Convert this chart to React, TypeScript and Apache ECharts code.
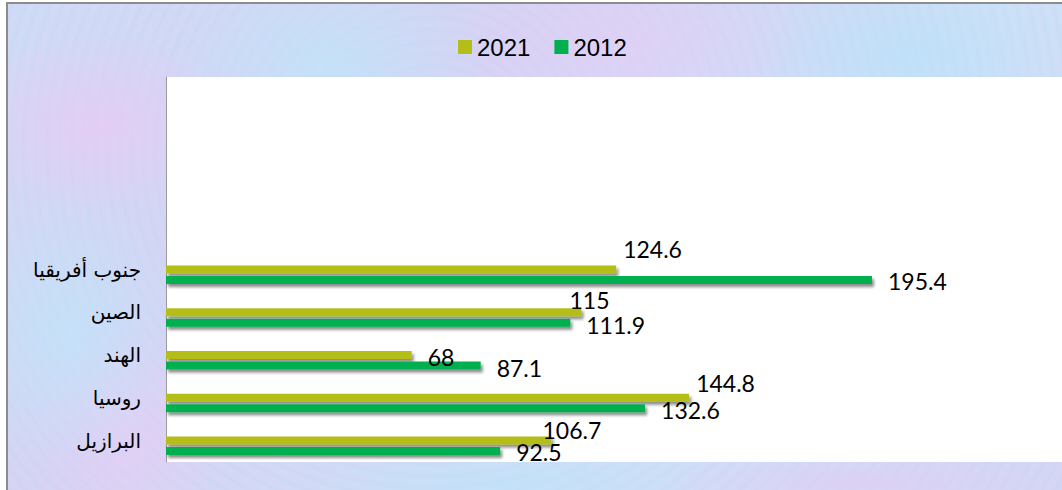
import React, { useEffect, useRef } from "react";
import * as echarts from "echarts";

const categories = ["البرازيل", "روسيا", "الهند", "الصين", "جنوب أفريقيا"];
const values2021 = [106.7, 144.8, 68, 115, 124.6];
const values2012 = [92.5, 132.6, 87.1, 111.9, 195.4];
const seriesNames = ["2021", "2012"];
const emptySlotsOnTop = 4;

// label placement tweaks (style only)
const offsets2021: [number, number][] = [
  [-25, -11],
  [-9, -15],
  [0, 2],
  [-28, -12],
  [-9, -21],
];
const offsets2012: [number, number][] = [
  [0, 1],
  [0, 2],
  [0, 2],
  [0, 2],
  [0, 1],
];

export default function App() {
  const ref = useRef<HTMLDivElement>(null);
  useEffect(() => {
    if (!ref.current) return;
    const chart = echarts.init(ref.current, null, { renderer: "svg" });
    const axisData = [
      ...categories,
      ...Array.from({ length: emptySlotsOnTop }, (_, i) => " ".repeat(i + 1)),
    ];
    const shadow = {
      shadowColor: "rgba(0,0,0,0.45)",
      shadowBlur: 3,
      shadowOffsetX: 2,
      shadowOffsetY: 3,
    };
    const labelFont = { fontFamily: "Lato", fontSize: 23, lineHeight: 18, color: "#000" };
    chart.setOption({
      animation: false,
      backgroundColor: "transparent",
      legend: {
        data: seriesNames,
        left: 453,
        top: 30,
        itemWidth: 14,
        itemHeight: 14,
        itemGap: 24,
        icon: "rect",
        textStyle: { fontFamily: "Liberation Sans, Arial", fontSize: 24, color: "#000" },
      },
      grid: {
        left: 166,
        top: 77,
        right: 0,
        height: 385,
        show: true,
        backgroundColor: "#ffffff",
        borderWidth: 0,
      },
      xAxis: {
        type: "value",
        min: 0,
        max: 248,
        show: false,
        splitLine: { show: false },
      },
      yAxis: {
        type: "category",
        data: axisData,
        axisLine: { show: true, lineStyle: { color: "#9a9a9a", width: 1 } },
        axisTick: { show: false },
        axisLabel: {
          margin: 25,
          fontFamily: "DejaVu Sans",
          fontSize: 20,
          color: "#000",
        },
      },
      series: [
        {
          name: "",
          type: "bar",
          barWidth: 8,
          barGap: "31%",
          data: categories.map(() => null),
          silent: true,
        },
        {
          name: seriesNames[0],
          type: "bar",
          barWidth: 8,
          barGap: "31%",
          itemStyle: { color: "#B4BE18", ...shadow },
          label: { show: true, position: "right", distance: 16, ...labelFont },
          data: values2021.map((v, i) => ({ value: v, label: { offset: offsets2021[i] } })),
        },
        {
          name: seriesNames[1],
          type: "bar",
          barWidth: 8,
          barGap: "31%",
          itemStyle: { color: "#00B050", ...shadow },
          label: { show: true, position: "right", distance: 16, ...labelFont },
          data: values2012.map((v, i) => ({ value: v, label: { offset: offsets2012[i] } })),
        },
      ],
    });
    return () => chart.dispose();
  }, []);

  const texture =
    "radial-gradient(ellipse 140px 90px at 90px 120px, rgba(235,200,245,0.7), transparent)," +
    "radial-gradient(ellipse 160px 100px at 320px 60px, rgba(190,230,250,0.7), transparent)," +
    "radial-gradient(ellipse 180px 90px at 620px 40px, rgba(230,205,245,0.6), transparent)," +
    "radial-gradient(ellipse 160px 80px at 900px 50px, rgba(185,225,250,0.7), transparent)," +
    "radial-gradient(ellipse 120px 140px at 60px 330px, rgba(190,230,250,0.7), transparent)," +
    "radial-gradient(ellipse 100px 120px at 120px 430px, rgba(235,205,245,0.6), transparent)," +
    "radial-gradient(ellipse 200px 30px at 500px 478px, rgba(190,225,250,0.7), transparent)," +
    "radial-gradient(ellipse 200px 30px at 850px 478px, rgba(225,205,245,0.7), transparent)," +
    "repeating-radial-gradient(circle at 40% 30%, rgba(180,200,240,0.18) 0px, rgba(255,255,255,0) 6px, rgba(220,200,245,0.18) 12px)," +
    "linear-gradient(135deg, #cfdcf6 0%, #d6d4f4 35%, #cde2f7 65%, #d5d6f5 100%)";

  return (
    <div
      style={{
        position: "fixed",
        left: 0,
        top: 0,
        width: 1062,
        height: 490,
        background: "#ffffff",
        overflow: "hidden",
      }}
    >
      <div
        style={{
          position: "absolute",
          left: 6,
          top: 2,
          width: 1062,
          height: 490,
          borderLeft: "2px solid #8c8c8c",
          borderTop: "2px solid #8c8c8c",
          background: texture,
        }}
      />
      <div
        ref={ref}
        style={{ position: "absolute", left: 0, top: 0, width: 1062, height: 490 }}
      />
    </div>
  );
}
